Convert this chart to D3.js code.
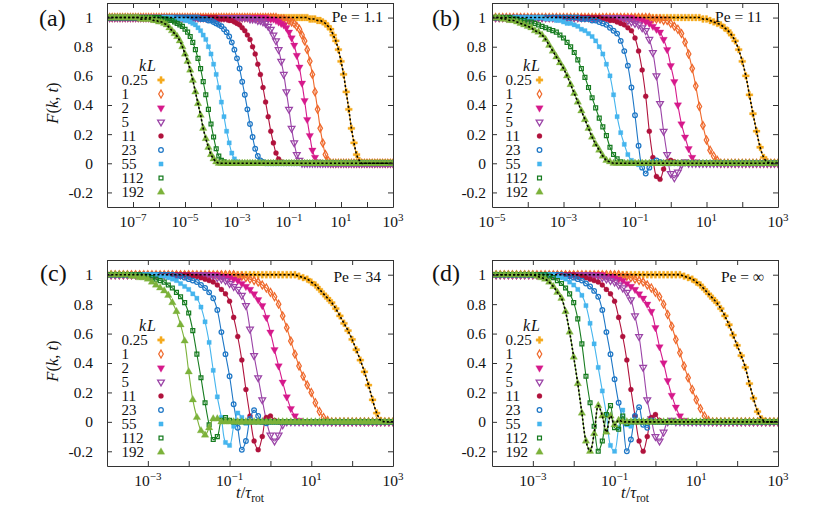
<!DOCTYPE html>
<html><head><meta charset="utf-8">
<script src="https://cdn.jsdelivr.net/npm/d3@7"></script>
<style>
body{margin:0;background:#fff}
text, tspan{font-family:'Liberation Serif','DejaVu Serif','Noto Serif',serif !important;fill:#111}
</style></head>
<body><svg id="chart" width="830" height="511" font-family="Liberation Serif"></svg>
<script>
// ---------------- data ----------------
const kL = ["0.25","1","2","5","11","23","55","112","192"];
const peLabels = ["Pe = 1.1","Pe = 11","Pe = 34","Pe = \u221E"];
const panelLabels = ["(a)","(b)","(c)","(d)"];
const yTicks = [-0.2,0,0.2,0.4,0.6,0.8,1];
const yTickLabels = ["-0.2","0","0.2","0.4","0.6","0.8","1"];
const xTickExpA = [-8,-7,-6,-5,-4,-3,-2,-1,0,1,2,3];
const xLabelExpA = [-7,-5,-3,-1,1,3];
const xTickExpB = [-5,-4,-3,-2,-1,0,1,2,3];
const xLabelExpB = [-5,-3,-1,1,3];
const xTickExpCD = [-4,-3,-2,-1,0,1,2,3];
const xLabelExpCD = [-3,-1,1,3];

// sample times, log10(t / tau_rot)
const logT_A = [
-8,-7.9,-7.8,-7.7,-7.6,-7.5,-7.4,-7.3,-7.2,-7.1,
-7,-6.9,-6.8,-6.7,-6.6,-6.5,-6.4,-6.3,-6.2,-6.1,
-6,-5.9,-5.8,-5.7,-5.6,-5.5,-5.4,-5.3,-5.2,-5.1,
-5,-4.9,-4.8,-4.7,-4.6,-4.5,-4.4,-4.3,-4.2,-4.1,
-4,-3.9,-3.8,-3.7,-3.6,-3.5,-3.4,-3.3,-3.2,-3.1,
-3,-2.9,-2.8,-2.7,-2.6,-2.5,-2.4,-2.3,-2.2,-2.1,
-2,-1.9,-1.8,-1.7,-1.6,-1.5,-1.4,-1.3,-1.2,-1.1,
-1,-0.9,-0.8,-0.7,-0.6,-0.5,-0.4,-0.3,-0.2,-0.1,
0,0.1,0.2,0.3,0.4,0.5,0.6,0.7,0.8,0.9,
1,1.1,1.2,1.3,1.4,1.5,1.6,1.7,1.8,1.9,
2,2.1,2.2,2.3,2.4,2.5,2.6,2.7,2.8,2.9,
3];
const logT_B = logT_A.slice(30);   // -5 .. 3
const logT_CD = logT_A.slice(40);  // -4 .. 3

// ---- (a) Pe = 1.1 ----  rows: -8,-7,...,2 then 3
const A_025 = [
1,1,1,1,1,1,1,1,1,1, 1,1,1,1,1,1,1,1,1,1, 1,1,1,1,1,1,1,1,1,1, 1,1,1,1,1,1,1,1,1,1,
1,1,1,1,1,1,1,1,1,1, 1,1,1,1,1,1,1,1,1,1, 1,1,1,1,1,1,1,1,1,1,
1,1,1,1,1,1,1,1,.99,.99,
.99,.98,.98,.97,.96,.94,.92,.88,.84,.78,
.70,.61,.49,.37,.24,.14,.06,.02,0,0,
0,0,0,0,0,0,0,0,0,0, 0];
const A_1 = [
1,1,1,1,1,1,1,1,1,1, 1,1,1,1,1,1,1,1,1,1, 1,1,1,1,1,1,1,1,1,1, 1,1,1,1,1,1,1,1,1,1,
1,1,1,1,1,1,1,1,1,1, 1,1,1,1,1,1,1,1,1,1,
1,1,1,1,1,1,.99,.99,.99,.98,
.98,.97,.96,.94,.92,.88,.84,.78,.70,.61,
.49,.37,.24,.14,.06,.02,0,0,0,0,
0,0,0,0,0,0,0,0,0,0, 0,0,0,0,0,0,0,0,0,0, 0];
const A_2 = [
1,1,1,1,1,1,1,1,1,1, 1,1,1,1,1,1,1,1,1,1, 1,1,1,1,1,1,1,1,1,1, 1,1,1,1,1,1,1,1,1,1,
1,1,1,1,1,1,1,1,1,1, 1,1,1,1,1,1,1,1,1,1,
1,1,.99,.99,.99,.98,.97,.96,.95,.93,
.90,.86,.81,.74,.66,.55,.43,.30,.19,.09,
.04,.01,0,0,0,0,0,0,0,0,
0,0,0,0,0,0,0,0,0,0, 0,0,0,0,0,0,0,0,0,0, 0];
const A_5 = [
1,1,1,1,1,1,1,1,1,1, 1,1,1,1,1,1,1,1,1,1, 1,1,1,1,1,1,1,1,1,1, 1,1,1,1,1,1,1,1,1,1,
1,1,1,1,1,1,1,1,1,1,
1,1,1,1,1,.99,.99,.99,.98,.98,
.97,.96,.94,.92,.88,.84,.78,.70,.61,.49,
.37,.24,.14,.06,.02,0,0,0,0,0,
0,0,0,0,0,0,0,0,0,0, 0,0,0,0,0,0,0,0,0,0, 0,0,0,0,0,0,0,0,0,0, 0];
const A_11 = [
1,1,1,1,1,1,1,1,1,1, 1,1,1,1,1,1,1,1,1,1, 1,1,1,1,1,1,1,1,1,1, 1,1,1,1,1,1,1,1,1,1,
1,1,1,.99,.99,.99,.99,.98,.98,.97,
.96,.95,.93,.91,.88,.85,.80,.75,.68,.61,
.52,.42,.32,.22,.14,.07,.03,.01,0,0,
0,0,0,0,0,0,0,0,0,0, 0,0,0,0,0,0,0,0,0,0, 0,0,0,0,0,0,0,0,0,0, 0,0,0,0,0,0,0,0,0,0, 0];
const A_23 = [
1,1,1,1,1,1,1,1,1,1, 1,1,1,1,1,1,1,1,1,1, 1,1,1,1,1,1,1,1,1,1,
1,1,1,1,1,1,.99,.99,.99,.98,
.98,.97,.96,.95,.94,.92,.90,.87,.83,.78,
.72,.65,.56,.47,.37,.27,.18,.10,.05,.02,
.01,0,0,0,0,0,0,0,0,0,
0,0,0,0,0,0,0,0,0,0, 0,0,0,0,0,0,0,0,0,0, 0,0,0,0,0,0,0,0,0,0, 0,0,0,0,0,0,0,0,0,0, 0];
const A_55 = [
1,1,1,1,1,1,1,1,1,1, 1,1,1,1,1,1,1,1,1,1,
1,1,1,1,1,1,.99,.99,.99,.99,
.98,.98,.97,.96,.95,.93,.91,.88,.85,.80,
.75,.68,.61,.52,.42,.32,.22,.14,.07,.03,
.01,0,0,0,0,0,0,0,0,0,
0,0,0,0,0,0,0,0,0,0, 0,0,0,0,0,0,0,0,0,0, 0,0,0,0,0,0,0,0,0,0, 0,0,0,0,0,0,0,0,0,0, 0,0,0,0,0,0,0,0,0,0, 0];
const A_112 = [
1,1,1,1,1,1,1,1,1,1, 1,1,1,1,1,1,1,1,1,1,
1,.99,.99,.99,.98,.98,.97,.96,.95,.94,
.92,.90,.87,.83,.78,.72,.65,.56,.47,.37,
.27,.18,.10,.05,.02,.01,0,0,0,0,
0,0,0,0,0,0,0,0,0,0, 0,0,0,0,0,0,0,0,0,0, 0,0,0,0,0,0,0,0,0,0, 0,0,0,0,0,0,0,0,0,0, 0,0,0,0,0,0,0,0,0,0, 0,0,0,0,0,0,0,0,0,0, 0];
const A_192 = [
1,1,1,1,1,1,1,1,1,1,
1,1,1,.99,.99,.99,.99,.99,.98,.98,
.97,.97,.96,.95,.93,.91,.89,.87,.84,.80,
.75,.70,.64,.57,.49,.41,.33,.24,.17,.11,
.06,.03,.01,0,0,0,0,0,0,0,
0,0,0,0,0,0,0,0,0,0, 0,0,0,0,0,0,0,0,0,0, 0,0,0,0,0,0,0,0,0,0, 0,0,0,0,0,0,0,0,0,0, 0,0,0,0,0,0,0,0,0,0, 0,0,0,0,0,0,0,0,0,0, 0];

// ---- (b) Pe = 11 ----  rows: -5,...,2 then 3
const B_025 = [
1,1,1,1,1,1,1,1,1,1, 1,1,1,1,1,1,1,1,1,1, 1,1,1,1,1,1,1,1,1,1, 1,1,1,1,1,1,1,1,1,1, 1,1,1,1,1,1,1,1,1,1,
1,1,1,1,1,1,1,1,1,.99,
.99,.98,.97,.96,.95,.93,.91,.88,.84,.78,
.70,.60,.47,.34,.22,.11,.04,.01,0,0, 0];
const B_1 = [
1,1,1,1,1,1,1,1,1,1, 1,1,1,1,1,1,1,1,1,1, 1,1,1,1,1,1,1,1,1,1, 1,1,1,1,1,1,1,1,1,1,
1,1,1,1,1,.99,.99,.99,.98,.98,
.96,.94,.92,.89,.83,.75,.65,.53,.39,.26,
.16,.09,.05,.02,0,0,0,0,0,0,
0,0,0,0,0,0,0,0,0,0, 0];
const B_2 = [
1,1,1,1,1,1,1,1,1,1, 1,1,1,1,1,1,1,1,1,1, 1,1,1,1,1,1,1,1,1,1, 1,1,1,1,1,1,1,1,1,1,
.99,.99,.98,.97,.96,.94,.92,.90,.85,.78,
.67,.56,.40,.27,.18,.10,.04,.01,0,0,
0,0,0,0,0,0,0,0,0,0, 0,0,0,0,0,0,0,0,0,0, 0];
const B_5 = [
1,1,1,1,1,1,1,1,1,1, 1,1,1,1,1,1,1,1,1,1, 1,1,1,1,1,1,1,1,1,1,
1,1,1,1,1,1,.99,.99,.98,.97,
.96,.95,.93,.91,.85,.76,.60,.41,.22,.06,
-.07,-.10,-.06,-.01,.01,0,0,0,0,0,
0,0,0,0,0,0,0,0,0,0, 0,0,0,0,0,0,0,0,0,0, 0];
const B_11 = [
1,1,1,1,1,1,1,1,1,1, 1,1,1,1,1,1,1,1,1,1, 1,1,1,1,1,1,1,1,1,1,
1,.99,.99,.98,.98,.97,.96,.95,.93,.91,
.86,.77,.64,.46,.22,.04,-.09,-.11,-.04,.01,
.02,.01,0,0,0,0,0,0,0,0,
0,0,0,0,0,0,0,0,0,0, 0,0,0,0,0,0,0,0,0,0, 0];
const B_23 = [
1,1,1,1,1,1,1,1,1,1, 1,1,1,1,1,1,1,1,1,1,
1,1,1,1,1,.99,.99,.99,.98,.98,
.97,.96,.95,.93,.91,.89,.84,.77,.67,.52,
.33,.12,-.03,-.07,-.03,.01,.02,.01,0,0,
0,0,0,0,0,0,0,0,0,0, 0,0,0,0,0,0,0,0,0,0, 0,0,0,0,0,0,0,0,0,0, 0];
const B_55 = [
1,1,1,1,1,1,1,1,1,1,
1,1,1,1,1,.99,.99,.99,.98,.98,
.97,.96,.96,.95,.94,.92,.91,.89,.87,.84,
.80,.75,.68,.60,.47,.32,.21,.13,.06,.02,
0,-.01,0,0,0,0,0,0,0,0,
0,0,0,0,0,0,0,0,0,0, 0,0,0,0,0,0,0,0,0,0, 0,0,0,0,0,0,0,0,0,0, 0];
const B_112 = [
1,1,1,1,1,1,.99,.99,.98,.98,
.97,.97,.96,.95,.94,.93,.92,.91,.90,.88,
.86,.83,.80,.76,.71,.65,.59,.52,.45,.38,
.31,.25,.19,.11,.06,.03,.01,0,0,0,
0,0,0,0,0,0,0,0,0,0, 0,0,0,0,0,0,0,0,0,0, 0,0,0,0,0,0,0,0,0,0, 0,0,0,0,0,0,0,0,0,0, 0];
const B_192 = [
1,1,1,.99,.99,.98,.98,.97,.96,.95,
.94,.93,.91,.90,.88,.85,.81,.77,.73,.69,
.65,.60,.54,.48,.42,.36,.30,.24,.18,.13,
.09,.05,.02,.01,0,0,0,0,0,0,
0,0,0,0,0,0,0,0,0,0, 0,0,0,0,0,0,0,0,0,0, 0,0,0,0,0,0,0,0,0,0, 0,0,0,0,0,0,0,0,0,0, 0];

// ---- (c) Pe = 34 ----  rows: -4,...,2 then 3
const C_025 = [
1,1,1,1,1,1,1,1,1,1, 1,1,1,1,1,1,1,1,1,1, 1,1,1,1,1,1,1,1,1,1, 1,1,1,1,1,1,1,1,1,1,
1,1,1,1,1,1,1,.99,.98,.97,
.95,.93,.90,.87,.84,.81,.77,.72,.67,.62,
.56,.49,.42,.34,.25,.15,.06,.01,0,0, 0];
const C_1 = [
1,1,1,1,1,1,1,1,1,1, 1,1,1,1,1,1,1,1,1,1, 1,1,1,1,1,1,1,1,1,1,
1,1,.99,.99,.98,.97,.96,.95,.93,.91,
.88,.85,.80,.72,.64,.55,.46,.38,.31,.25,
.20,.13,.07,.03,.01,0,0,0,0,0,
0,0,0,0,0,0,0,0,0,0, 0];
const C_2 = [
1,1,1,1,1,1,1,1,1,1, 1,1,1,1,1,1,1,1,1,1,
1,1,1,1,1,1,1,1,.99,.99,
.98,.97,.96,.94,.92,.90,.87,.83,.79,.71,
.61,.49,.38,.27,.17,.09,.04,.01,0,0,
0,0,0,0,0,0,0,0,0,0, 0,0,0,0,0,0,0,0,0,0, 0];
const C_5 = [
1,1,1,1,1,1,1,1,1,1, 1,1,1,1,1,1,1,1,1,1,
1,1,1,1,1,.99,.99,.98,.97,.96,
.94,.92,.90,.86,.79,.63,.45,.30,.15,.01,
-.09,-.13,-.09,-.02,0,0,0,0,0,0,
0,0,0,0,0,0,0,0,0,0, 0,0,0,0,0,0,0,0,0,0, 0];
const C_11 = [
1,1,1,1,1,1,1,1,1,1, 1,1,1,1,1,1,1,1,1,1,
1,.99,.99,.98,.97,.96,.95,.93,.90,.87,
.82,.71,.58,.42,.22,.04,-.13,-.19,-.10,.03,
.04,.01,0,0,0,0,0,0,0,0,
0,0,0,0,0,0,0,0,0,0, 0,0,0,0,0,0,0,0,0,0, 0];
const C_23 = [
1,1,1,1,1,1,1,1,1,1,
1,1,1,1,1,1,1,.99,.99,.98,
.97,.96,.95,.93,.91,.88,.84,.76,.61,.46,
.31,.12,-.04,-.19,-.13,.02,.08,.04,0,-.01,
0,0,0,0,0,0,0,0,0,0, 0,0,0,0,0,0,0,0,0,0, 0,0,0,0,0,0,0,0,0,0, 0];
const C_55 = [
1,1,1,1,1,1,1,1,1,1,
1,1,1,.99,.99,.98,.97,.96,.94,.92,
.90,.87,.84,.78,.68,.54,.35,.17,.03,-.14,
-.16,-.03,.06,.03,-.01,0,0,0,0,0,
0,0,0,0,0,0,0,0,0,0, 0,0,0,0,0,0,0,0,0,0, 0,0,0,0,0,0,0,0,0,0, 0];
const C_112 = [
1,1,1,1,1,1,1,1,1,.99,
.99,.98,.97,.96,.95,.93,.91,.88,.85,.81,
.74,.62,.46,.30,.13,-.02,-.12,-.10,.01,.03,
.01,0,0,0,0,0,0,0,0,0,
0,0,0,0,0,0,0,0,0,0, 0,0,0,0,0,0,0,0,0,0, 0,0,0,0,0,0,0,0,0,0, 0];
const C_192 = [
1,1,1,1,1,1,.99,.99,.98,.98,
.97,.95,.93,.91,.89,.86,.81,.75,.66,.55,
.34,.15,.03,-.06,-.09,-.04,.02,.02,0,0,
0,0,0,0,0,0,0,0,0,0,
0,0,0,0,0,0,0,0,0,0, 0,0,0,0,0,0,0,0,0,0, 0,0,0,0,0,0,0,0,0,0, 0];

// ---- (d) Pe = infinity ----  rows: -4,...,2 then 3
const D_025 = [
1,1,1,1,1,1,1,1,1,1, 1,1,1,1,1,1,1,1,1,1, 1,1,1,1,1,1,1,1,1,1, 1,1,1,1,1,1,1,1,1,1,
1,1,1,1,1,1,1,.99,.98,.97,
.95,.93,.90,.87,.84,.81,.77,.72,.66,.59,
.52,.45,.37,.26,.16,.07,.02,0,0,0, 0];
const D_1 = [
1,1,1,1,1,1,1,1,1,1, 1,1,1,1,1,1,1,1,1,1, 1,1,1,1,1,1,1,1,1,1,
1,1,.99,.99,.98,.97,.96,.95,.93,.91,
.88,.85,.80,.73,.65,.56,.47,.38,.30,.22,
.15,.09,.04,.01,0,0,0,0,0,0,
0,0,0,0,0,0,0,0,0,0, 0];
const D_2 = [
1,1,1,1,1,1,1,1,1,1, 1,1,1,1,1,1,1,1,1,1,
1,1,1,1,1,1,1,1,.99,.99,
.98,.97,.96,.94,.92,.90,.87,.84,.80,.75,
.64,.51,.40,.28,.18,.10,.04,.01,0,0,
0,0,0,0,0,0,0,0,0,0, 0,0,0,0,0,0,0,0,0,0, 0];
const D_5 = [
1,1,1,1,1,1,1,1,1,1, 1,1,1,1,1,1,1,1,1,1,
1,1,1,1,1,.99,.99,.98,.97,.96,
.95,.93,.91,.88,.83,.72,.58,.37,.15,.02,
-.10,-.13,-.07,0,.01,0,0,0,0,0,
0,0,0,0,0,0,0,0,0,0, 0,0,0,0,0,0,0,0,0,0, 0];
const D_11 = [
1,1,1,1,1,1,1,1,1,1, 1,1,1,1,1,1,1,1,1,1,
1,.99,.99,.98,.97,.96,.95,.93,.90,.87,
.82,.71,.58,.42,.22,.04,-.13,-.20,-.10,.03,
.05,.01,0,0,0,0,0,0,0,0,
0,0,0,0,0,0,0,0,0,0, 0,0,0,0,0,0,0,0,0,0, 0];
const D_23 = [
1,1,1,1,1,1,1,1,1,1,
1,1,1,1,1,1,1,1,.99,.99,
.98,.97,.96,.94,.92,.89,.85,.76,.61,.46,
.29,.13,.01,-.20,-.12,.04,.10,-.02,-.04,.01,
0,0,0,0,0,0,0,0,0,0, 0,0,0,0,0,0,0,0,0,0, 0,0,0,0,0,0,0,0,0,0, 0];
const D_55 = [
1,1,1,1,1,1,1,1,1,1,
1,1,1,1,1,1,.99,.98,.97,.95,
.93,.90,.86,.79,.67,.53,.37,.21,.05,-.16,
-.20,-.04,.08,-.02,-.03,.01,0,0,0,0,
0,0,0,0,0,0,0,0,0,0, 0,0,0,0,0,0,0,0,0,0, 0,0,0,0,0,0,0,0,0,0, 0];
const D_112 = [
1,1,1,1,1,1,1,1,1,1,
1,1,1,1,.99,.98,.96,.94,.91,.87,
.81,.70,.53,.31,.13,-.03,-.20,-.13,.05,.11,
-.04,-.05,.04,-.01,0,0,0,0,0,0,
0,0,0,0,0,0,0,0,0,0, 0,0,0,0,0,0,0,0,0,0, 0,0,0,0,0,0,0,0,0,0, 0];
const D_192 = [
1,1,1,1,1,1,1,1,1,1,
1,.99,.98,.97,.95,.92,.88,.84,.75,.61,
.44,.26,.06,-.13,-.20,-.08,.11,.04,-.07,.04,
-.02,.01,0,0,0,0,0,0,0,0,
0,0,0,0,0,0,0,0,0,0, 0,0,0,0,0,0,0,0,0,0, 0,0,0,0,0,0,0,0,0,0, 0];

// ---------------- styles ----------------
const FONT = "'Liberation Serif','DejaVu Serif','Noto Serif',serif";
const colors = ["#f5aa1c","#ef692c","#d6198b","#9b44a7","#b0123c","#1e77c6","#45b5ee","#177c20","#7cb23a"];
const markers = [
  {type:d3.symbolCross,   fill:true,  size:26, rot:0},
  {type:d3.symbolDiamond, fill:false, size:18, rot:0},
  {type:d3.symbolTriangle,fill:true,  size:24, rot:180},
  {type:d3.symbolTriangle,fill:false, size:20, rot:180},
  {type:d3.symbolCircle,  fill:true,  size:20, rot:0},
  {type:d3.symbolCircle,  fill:false, size:17, rot:0},
  {type:d3.symbolSquare,  fill:true,  size:18, rot:0},
  {type:d3.symbolSquare,  fill:false, size:15, rot:0},
  {type:d3.symbolTriangle,fill:true,  size:24, rot:0}
];

const panels = [
 {id:"a", x0:107, x1:393, y0:3,   y1:207, logT:logT_A,  ticks:xTickExpA,  labs:xLabelExpA,
  series:[A_025,A_1,A_2,A_5,A_11,A_23,A_55,A_112,A_192], dotted:[0,8],
  ytPad:14, lab:[39,26], pe:[383,22], legTitle:[139,71], legLab:121.5, legMark:161, legY:80, yTitle:true, xTitle:false},
 {id:"b", x0:492, x1:778, y0:3,   y1:207, logT:logT_B,  ticks:xTickExpB,  labs:xLabelExpB,
  series:[B_025,B_1,B_2,B_5,B_11,B_23,B_55,B_112,B_192], dotted:[0,8],
  ytPad:6, lab:[432,26], pe:[762,22], legTitle:[523,71], legLab:505.5, legMark:539.5, legY:80, yTitle:false, xTitle:false},
 {id:"c", x0:107, x1:393, y0:260, y1:466, logT:logT_CD, ticks:xTickExpCD, labs:xLabelExpCD,
  series:[C_025,C_1,C_2,C_5,C_11,C_23,C_55,C_112,C_192], dotted:[0],
  ytPad:14, lab:[40,281], pe:[381,282], legTitle:[139,331], legLab:121.5, legMark:161, legY:340, yTitle:true, xTitle:true},
 {id:"d", x0:492, x1:778, y0:260, y1:466, logT:logT_CD, ticks:xTickExpCD, labs:xLabelExpCD,
  series:[D_025,D_1,D_2,D_5,D_11,D_23,D_55,D_112,D_192], dotted:[0,8],
  ytPad:6, lab:[432,281], pe:[764,282], legTitle:[523,331], legLab:505.5, legMark:539.5, legY:340, yTitle:false, xTitle:true}
];

// sanity check of array lengths
const bad=[];
panels.forEach(p=>p.series.forEach((s,i)=>{ if(s.length!==p.logT.length) bad.push(p.id+kL[i]+":"+s.length+"/"+p.logT.length); }));
if(bad.length) throw new Error("length mismatch "+bad.join(", "));

// ---------------- drawing ----------------
const svg = d3.select("#chart");
const defs = svg.append("defs");
const AX = "#333";
const txt = (sel) => sel.append("text").attr("font-family", FONT).style("font-family", FONT);

panels.forEach((p, pi) => {
  const lt0 = p.logT[0], lt1 = p.logT[p.logT.length-1];
  const x = d3.scaleLog().domain([Math.pow(10,lt0), Math.pow(10,lt1)]).range([p.x0, p.x1]);
  const y = d3.scaleLinear().domain([-0.3, 1.1]).range([p.y1, p.y0]);
  const g = svg.append("g");

  defs.append("clipPath").attr("id","clip"+p.id).append("rect")
    .attr("x",p.x0).attr("y",p.y0).attr("width",p.x1-p.x0).attr("height",p.y1-p.y0);

  const plot = g.append("g").attr("clip-path","url(#clip"+p.id+")");
  const line = d3.line()
    .x(d => x(Math.pow(10,d[0]))).y(d => y(d[1]))
    .curve(d3.curveCatmullRom.alpha(0.5));

  p.series.forEach((F, si) => {
    const pts = p.logT.map((lt,i) => [lt, F[i]]);
    const m = markers[si];
    plot.append("path").datum(pts).attr("d", line)
      .attr("fill","none").attr("stroke",colors[si]).attr("stroke-width",1.1);
    const sym = d3.symbol().type(m.type).size(m.size);
    plot.append("g").selectAll("path").data(pts).join("path")
      .attr("d", sym)
      .attr("transform", d => `translate(${x(Math.pow(10,d[0]))},${y(d[1])}) rotate(${m.rot})`)
      .attr("fill", m.fill ? colors[si] : "none")
      .attr("stroke", colors[si]).attr("stroke-width", m.fill ? 0.3 : 1.25);
  });
  p.dotted.forEach(si => {
    const pts = p.logT.map((lt,i) => [lt, p.series[si][i]]);
    plot.append("path").datum(pts).attr("d", line)
      .attr("fill","none").attr("stroke","#000").attr("stroke-width",1.6)
      .attr("stroke-dasharray","2.2,2");
  });

  // axes (inward ticks on all four sides)
  const tv = p.ticks.map(e => Math.pow(10,e));
  const styleAxis = sel => { sel.selectAll(".domain").attr("stroke",AX); sel.selectAll(".tick line").attr("stroke",AX); sel.selectAll("text").remove(); };
  g.append("g").attr("transform",`translate(0,${p.y1})`)
    .call(d3.axisBottom(x).tickValues(tv).tickSize(-5).tickSizeOuter(0).tickFormat("")).call(styleAxis);
  g.append("g").attr("transform",`translate(0,${p.y0})`)
    .call(d3.axisTop(x).tickValues(tv).tickSize(-5).tickSizeOuter(0).tickFormat("")).call(styleAxis);
  g.append("g").attr("transform",`translate(${p.x0},0)`)
    .call(d3.axisLeft(y).tickValues(yTicks).tickSize(-5).tickSizeOuter(0).tickFormat("")).call(styleAxis);
  g.append("g").attr("transform",`translate(${p.x1},0)`)
    .call(d3.axisRight(y).tickValues(yTicks).tickSize(-5).tickSizeOuter(0).tickFormat("")).call(styleAxis);

  // y tick labels
  yTicks.forEach((v,i) => {
    txt(g).attr("x", p.x0 - p.ytPad).attr("y", y(v)).attr("dy","0.35em")
      .attr("text-anchor","end").attr("font-size",15.5).text(yTickLabels[i]);
  });
  // x tick labels 10^n
  p.labs.forEach(e => {
    const t = txt(g).attr("x", x(Math.pow(10,e))).attr("y", p.y1 + 20)
      .attr("text-anchor","middle").attr("font-size",15.5);
    t.append("tspan").text("10");
    t.append("tspan").attr("dy",-6.5).attr("font-size",11).text(e < 0 ? "\u2212" + Math.abs(e) : String(e));
  });

  // panel label & Pe
  txt(g).attr("x",p.lab[0]).attr("y",p.lab[1]).attr("font-size",24).text(panelLabels[pi]);
  txt(g).attr("x",p.pe[0]).attr("y",p.pe[1]).attr("text-anchor","end").attr("font-size",15.5)
    .text(peLabels[pi]);

  // legend
  txt(g).attr("x",p.legTitle[0]).attr("y",p.legTitle[1]).attr("font-size",16).attr("font-style","italic")
    .attr("letter-spacing",1).text("kL");
  kL.forEach((k,i) => {
    const yy = p.legY + 14*i;
    txt(g).attr("x",p.legLab).attr("y",yy).attr("dy","0.33em").attr("font-size",15).text(k);
    const m = markers[i];
    g.append("path").attr("d", d3.symbol().type(m.type).size(m.size)())
      .attr("transform",`translate(${p.legMark},${yy}) rotate(${m.rot})`)
      .attr("fill", m.fill ? colors[i] : "none").attr("stroke",colors[i]).attr("stroke-width", m.fill?0.3:1.25);
  });

  // axis titles
  if (p.yTitle) {
    const cy = (p.y0 + p.y1)/2 - 2;
    const t = txt(g).attr("transform",`translate(58,${cy}) rotate(-90)`)
      .attr("text-anchor","middle").attr("font-size",16.5);
    t.append("tspan").attr("font-style","italic").text("F");
    t.append("tspan").text("(");
    t.append("tspan").attr("font-style","italic").text("k");
    t.append("tspan").text(", ");
    t.append("tspan").attr("font-style","italic").text("t");
    t.append("tspan").text(")");
  }
  if (p.xTitle) {
    const t = txt(g).attr("x",(p.x0+p.x1)/2).attr("y",498)
      .attr("text-anchor","middle").attr("font-size",16.5);
    t.append("tspan").attr("font-style","italic").text("t");
    t.append("tspan").text("/");
    t.append("tspan").attr("font-style","italic").text("\u03C4");
    t.append("tspan").attr("font-size",11.5).attr("dy",4).text("rot");
  }
});
</script>
</body></html>
